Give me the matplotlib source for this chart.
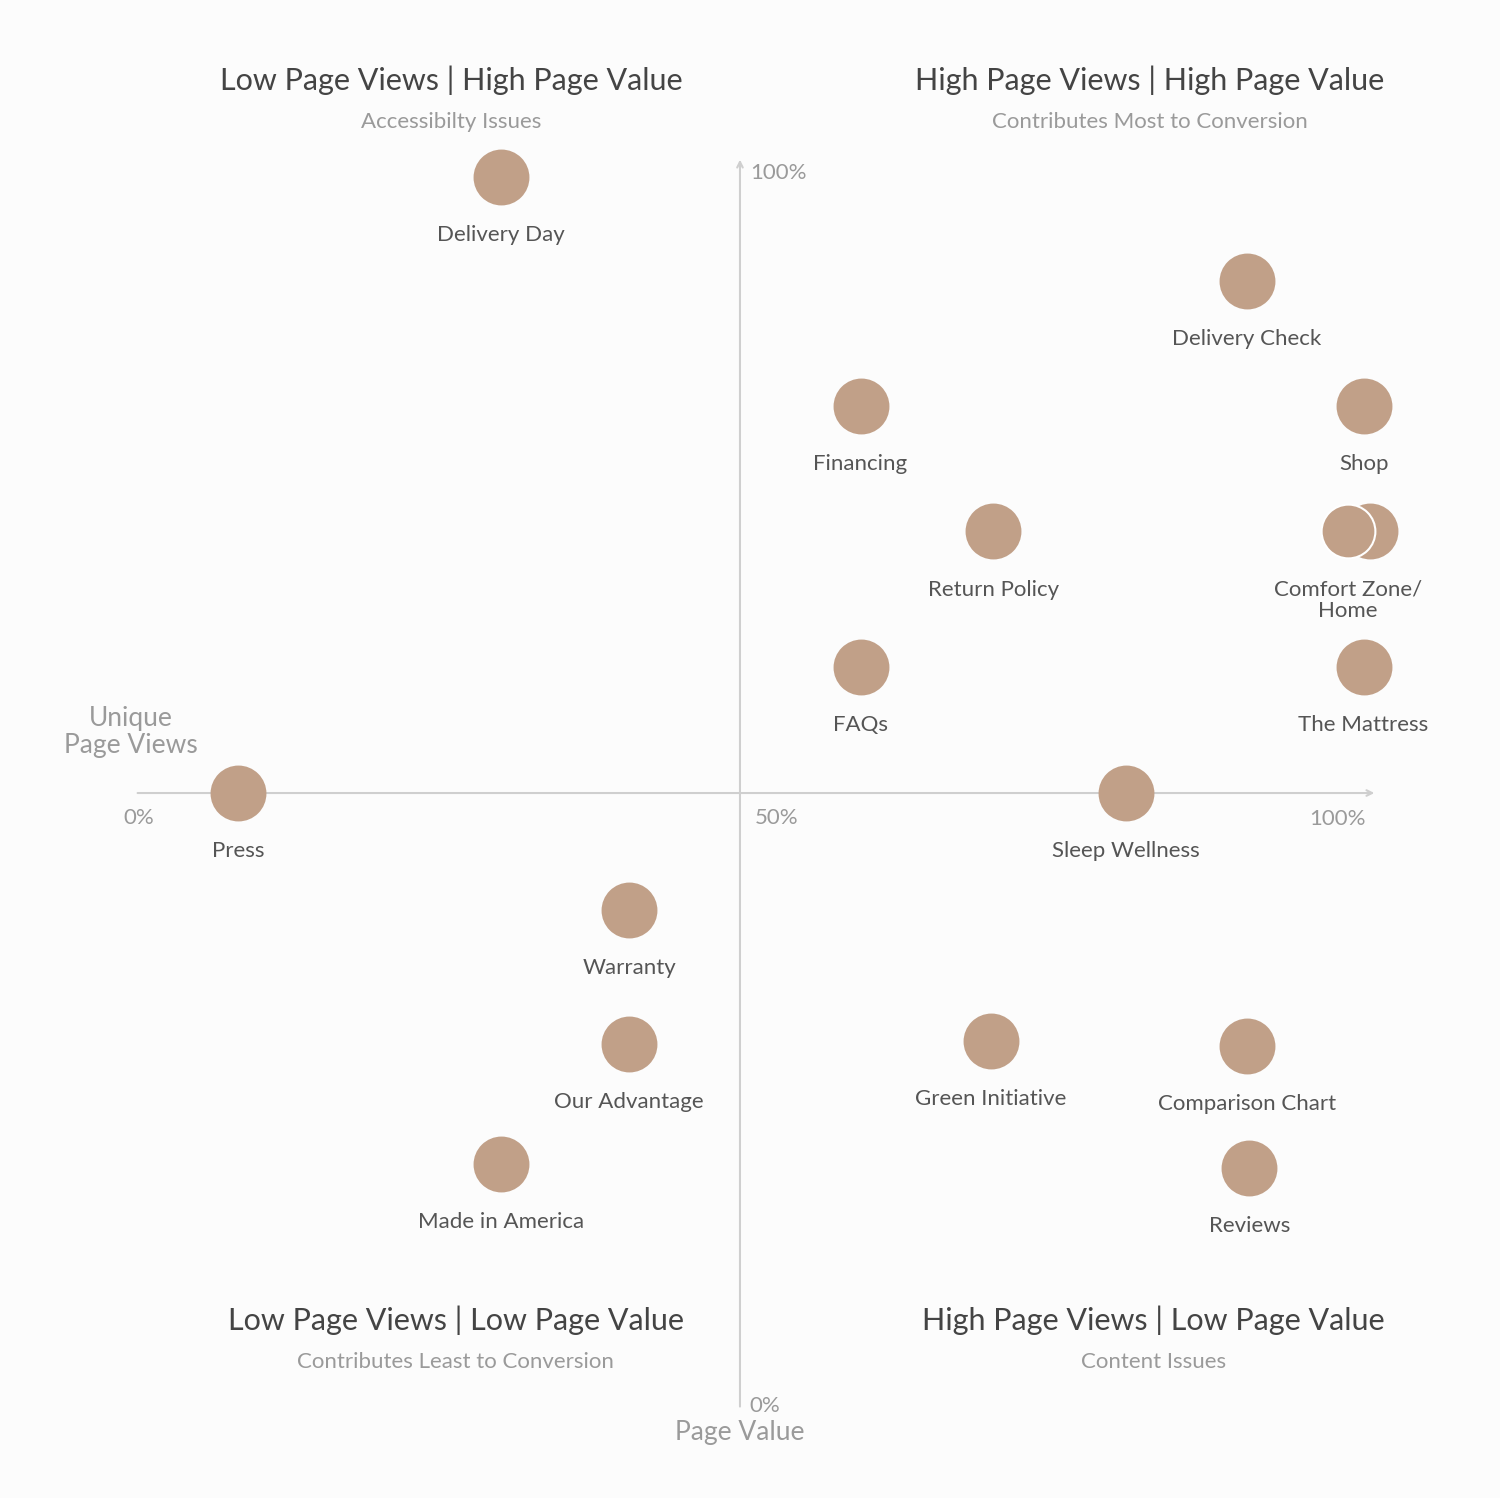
import matplotlib.pyplot as plt

# ── data (percent of range) ───────────────────────────────────────────────────
pages = ["Delivery Day", "Delivery Check", "Financing", "Shop", "Return Policy",
         "Comfort Zone", "Home", "FAQs", "The Mattress", "Press", "Sleep Wellness",
         "Warranty", "Our Advantage", "Green Initiative", "Comparison Chart",
         "Made in America", "Reviews"]
page_views = [30.6, 91.2, 59.8, 100.7, 70.6, 101.2, 99.4, 59.8, 100.7, 9.2, 81.4,
              41.0, 41.0, 70.4, 91.2, 30.6, 91.4]
page_value = [99.7, 91.3, 81.2, 81.2, 71.1, 71.1, 71.1, 60.2, 60.2, 50.0, 50.0,
              40.6, 29.8, 30.0, 29.6, 20.1, 19.8]

quadrants = [
    ("Low Page Views | High Page Value", "Accessibilty Issues", 26.5, 107.5),
    ("High Page Views | High Page Value", "Contributes Most to Conversion", 83.3, 107.5),
    ("Low Page Views | Low Page Value", "Contributes Least to Conversion", 26.9, 7.5),
    ("High Page Views | Low Page Value", "Content Issues", 83.6, 7.5),
]

DOT = "#C1A088"
AXIS = "#CFCFCF"
plt.rcParams["font.family"] = ["Lato", "DejaVu Sans"]

fig = plt.figure(figsize=(15, 14.98), dpi=100)
fig.patch.set_facecolor("#FCFCFC")
ax = fig.add_axes([0, 0, 1, 1])
ax.set_facecolor("#FCFCFC")
ax.set_xlim(-10.16, 111.79)
ax.set_ylim(-6.85, 113.95)
ax.axis("off")

# axes lines
ax.annotate("", xy=(101.8, 50), xytext=(0.8, 50),
            arrowprops=dict(arrowstyle="->", color=AXIS, lw=1.5))
ax.annotate("", xy=(50, 101.3), xytext=(50, 0.3),
            arrowprops=dict(arrowstyle="->", color=AXIS, lw=1.5))

tick_c = "#9A9A9A"
ax.text(1.1, 48.0, "0%", fontsize=16, color=tick_c, ha="center", va="center")
ax.text(53.0, 48.0, "50%", fontsize=16, color=tick_c, ha="center", va="center")
ax.text(98.6, 47.9, "100%", fontsize=16, color=tick_c, ha="center", va="center")
ax.text(50.8, 100.0, "100%", fontsize=16, color=tick_c, ha="left", va="center")
ax.text(50.8, 0.6, "0%", fontsize=16, color=tick_c, ha="left", va="center")
ax.text(0.5, 54.9, "Unique\nPage Views", fontsize=19, color=tick_c,
        ha="center", va="center", linespacing=1.1)
ax.text(50, -1.6, "Page Value", fontsize=19, color=tick_c, ha="center", va="center")

# quadrant headers
for title, sub, x, y in quadrants:
    ax.text(x, y, title, fontsize=22, color="#444444", ha="center", va="center")
    ax.text(x, y - 3.4, sub, fontsize=16, color="#9A9A9A", ha="center", va="center")

# points
for name, x, y in zip(pages, page_views, page_value):
    edge = "white" if name == "Home" else DOT
    ax.scatter(x, y, s=1500, color=DOT, edgecolors=edge, linewidths=1.5,
               zorder=3 if name != "Home" else 4)
    if name == "Comfort Zone":
        continue
    label = "Comfort Zone/\nHome" if name == "Home" else name
    ax.text(x, y - 3.9, label, fontsize=16, color="#555555", ha="center",
            va="top", linespacing=1.1)

fig.savefig("out.png", dpi=100, facecolor=fig.get_facecolor())
